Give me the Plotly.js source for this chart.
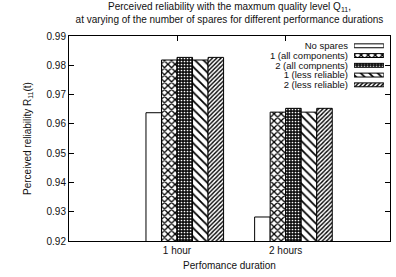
<!DOCTYPE html>
<html>
<head>
<meta charset="utf-8">
<script src="https://cdn.plot.ly/plotly-3.0.1.min.js"></script>
<style>html,body{margin:0;padding:0;background:#fff;}#chart{width:396px;height:277px;}</style>
</head>
<body>
<div id="chart"></div>
<script>
// ---- data ----
const durations = ["1 hour", "2 hours"];
const seriesNames = ["No spares", "1 (all components)", "2 (all compnents)", "1 (less reliable)", "2 (less reliable)"];
const noSpares      = [0.9638, 0.9282];
const oneAll        = [0.9818, 0.9640];
const twoAll        = [0.9827, 0.9653];
const oneLess       = [0.9818, 0.9640];
const twoLess       = [0.9827, 0.9653];
const yTicks = [0.92, 0.93, 0.94, 0.95, 0.96, 0.97, 0.98, 0.99];

const seriesValues = [noSpares, oneAll, twoAll, oneLess, twoLess];

// ---- styles ----
const patterns = [
  {shape: "", bgcolor: "#ffffff", fgcolor: "#000000"},
  {shape: "x", size: 5, solidity: 0.45, bgcolor: "#ffffff", fgcolor: "#000000"},
  {shape: ".", size: 3, solidity: 0.25, bgcolor: "#111111", fgcolor: "#ffffff"},
  {shape: "\\", size: 6, solidity: 0.3, bgcolor: "#ffffff", fgcolor: "#000000"},
  {shape: "/", size: 3, solidity: 0.45, bgcolor: "#ffffff", fgcolor: "#000000"}
];
const FONT = "Liberation Sans, Arial, Helvetica, sans-serif";
const barW = 1 / 7;

const traces = [];
seriesValues.forEach((vals, i) => {
  traces.push({
    type: "bar",
    name: seriesNames[i],
    x: durations,
    y: vals,
    width: barW,
    offset: (i - 2) * barW,
    marker: {color: "#ffffff", line: {color: "#000000", width: 1}, pattern: patterns[i]},
    showlegend: false,
    hoverinfo: "y"
  });
  // legend key swatch (drawn on a small helper axis)
  traces.push({
    type: "bar",
    orientation: "h",
    xaxis: "x2",
    yaxis: "y2",
    y: [seriesNames[i]],
    x: [1],
    width: 0.4,
    marker: {color: "#ffffff", line: {color: "#000000", width: 1}, pattern: patterns[i]},
    showlegend: false,
    hoverinfo: "skip"
  });
});

const layout = {
  width: 396,
  height: 277,
  margin: {l: 69, r: 6, t: 36, b: 36},
  paper_bgcolor: "#ffffff",
  plot_bgcolor: "#ffffff",
  font: {family: FONT, size: 10, color: "#111111"},
  barmode: "overlay",
  showlegend: false,
  title: {
    text: "Perceived reliability with the maxmum quality level Q<sub>11</sub>,<br>at varying of the number of spares for different performance durations",
    font: {family: FONT, size: 10, color: "#111111"},
    x: 0.5, xref: "paper", xanchor: "center",
    y: 0.964, yref: "container", yanchor: "top"
  },
  xaxis: {
    type: "category",
    range: [-0.994, 1.96],
    showline: true, linecolor: "#000000", linewidth: 1,
    mirror: "ticks", ticks: "inside", ticklen: 5, tickcolor: "#000000",
    showgrid: false, zeroline: false,
    tickfont: {family: FONT, size: 10, color: "#111111"},
    title: {text: "Perfomance duration", font: {family: FONT, size: 10, color: "#111111"}, standoff: 6}
  },
  yaxis: {
    range: [0.92, 0.99],
    tickvals: yTicks,
    tickformat: ".2f",
    showline: true, linecolor: "#000000", linewidth: 1,
    mirror: "ticks", ticks: "inside", ticklen: 5, tickcolor: "#000000",
    showgrid: false, zeroline: false,
    tickfont: {family: FONT, size: 10, color: "#111111"},
    title: {text: "Perceived reliability R<sub>11</sub>(t)", font: {family: FONT, size: 10, color: "#111111"}, standoff: 13}
  },
  xaxis2: {
    domain: [0.888, 0.981],
    anchor: "y2",
    range: [0, 1],
    visible: false,
    fixedrange: true
  },
  yaxis2: {
    domain: [0.738, 0.976],
    anchor: "x2",
    type: "category",
    autorange: "reversed",
    tickmode: "array",
    tickvals: seriesNames,
    ticktext: seriesNames,
    showline: false, showgrid: false, zeroline: false, ticks: "",
    ticklabelstandoff: 5,
    tickfont: {family: FONT, size: 9.5, color: "#111111"},
    fixedrange: true
  }
};

Plotly.newPlot("chart", traces, layout, {displayModeBar: false, staticPlot: true});
</script>
</body>
</html>
